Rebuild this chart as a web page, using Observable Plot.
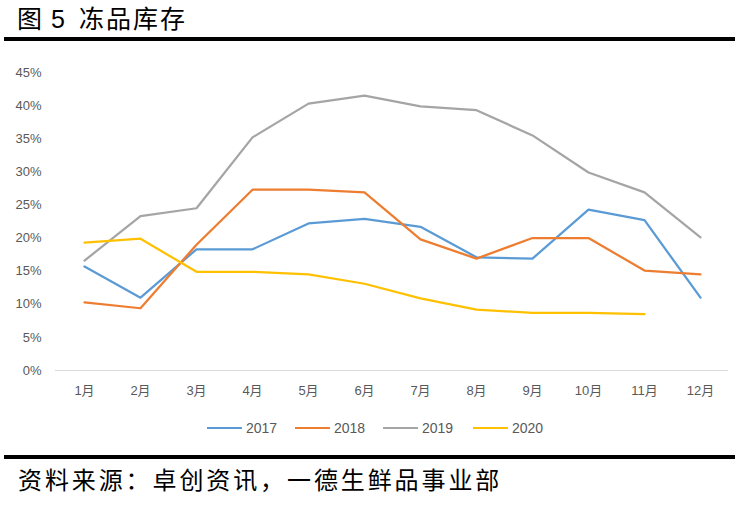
<!DOCTYPE html>
<html>
<head>
<meta charset="utf-8">
<script src="https://cdn.jsdelivr.net/npm/d3@7"></script>
<script src="https://cdn.jsdelivr.net/npm/@observablehq/plot@0.6"></script>
<style>
  html, body { margin: 0; padding: 0; background: #fff; }
  #wrap { position: relative; width: 739px; height: 509px; overflow: hidden; font-family: "Noto Sans CJK SC", "Liberation Sans", sans-serif; }
  #title { position: absolute; left: 17px; top: 0px; font-size: 25px; line-height: 34px; color: #000; white-space: pre; }
  #title .num { font-family: "Liberation Sans", sans-serif; margin: 0 14px 0 9px; }
  #title .name { letter-spacing: 2px; }
  .rule { position: absolute; left: 4px; width: 731px; height: 3.5px; background: #000; }
  #chart { position: absolute; left: 0; top: 50px; }
  #legend { position: absolute; top: 418px; left: 0; width: 739px; height: 20px; font-family: "Liberation Sans", "Noto Sans CJK SC", sans-serif; font-size: 14px; color: #595959; }
  .item { position: absolute; top: 0; display: flex; align-items: center; height: 20px; }
  .swatch { width: 35px; height: 0; border-top: 2.5px solid; margin-right: 4px; }
  #caption { position: absolute; left: 18px; top: 462px; font-size: 24px; line-height: 34px; color: #000; letter-spacing: 2.9px; white-space: pre; }
</style>
</head>
<body>
<div id="wrap">
  <div id="title"><span>图</span><span class="num">5</span><span class="name">冻品库存</span></div>
  <div class="rule" style="top:37px"></div>
  <div id="chart"></div>
  <div id="legend"></div>
  <div class="rule" style="top:455px"></div>
  <div id="caption">资料来源：卓创资讯，一德生鲜品事业部</div>
</div>
<script>
// Frozen goods inventory ratio by month, 2017–2020
const months = ["1月","2月","3月","4月","5月","6月","7月","8月","9月","10月","11月","12月"];
const years = ["2017", "2018", "2019", "2020"];
const v2017 = [0.157, 0.110, 0.183, 0.183, 0.222, 0.229, 0.217, 0.171, 0.169, 0.243, 0.227, 0.110];
const v2018 = [0.103, 0.094, 0.190, 0.273, 0.273, 0.269, 0.198, 0.169, 0.200, 0.200, 0.151, 0.145];
const v2019 = [0.166, 0.233, 0.245, 0.352, 0.403, 0.415, 0.399, 0.393, 0.355, 0.299, 0.269, 0.201];
const v2020 = [0.193, 0.199, 0.149, 0.149, 0.145, 0.131, 0.109, 0.092, 0.087, 0.087, 0.085, null];
const yTicks = [0, 0.05, 0.10, 0.15, 0.20, 0.25, 0.30, 0.35, 0.40, 0.45];
const colors = ["#5B9BD5", "#ED7D31", "#A5A5A5", "#FFC000"];

const seriesValues = [v2017, v2018, v2019, v2020];
const rows = [];
years.forEach((y, i) => {
  seriesValues[i].forEach((v, j) => {
    if (v != null) rows.push({ year: y, month: months[j], value: v });
  });
});

const chart = Plot.plot({
  width: 739,
  height: 360,
  marginTop: 22,
  marginBottom: 40,
  marginLeft: 55,
  marginRight: 11,
  style: { fontFamily: "'Liberation Sans', 'Noto Sans CJK SC', sans-serif", fontSize: "13px", color: "#595959", background: "transparent" },
  x: { type: "point", domain: months, padding: 0.5 },
  y: { domain: [0, 0.45] },
  color: { domain: years, range: colors },
  marks: [
    Plot.ruleY([0], { stroke: "#D9D9D9", strokeWidth: 1 }),
    Plot.axisY({ ticks: yTicks, tickFormat: d3.format(".0%"), tickSize: 0, tickPadding: 14, label: null, fill: "#595959" }),
    Plot.axisX({ tickSize: 0, tickPadding: 15, label: null, fill: "#595959" }),
    Plot.line(rows, { x: "month", y: "value", z: "year", stroke: "year", strokeWidth: 2.25, strokeLinejoin: "round", strokeLinecap: "round" })
  ]
});
document.getElementById("chart").appendChild(chart);

// Legend row beneath the plot
const legend = document.getElementById("legend");
const starts = [207, 295, 383, 473];
years.forEach((y, i) => {
  const item = document.createElement("div");
  item.className = "item";
  item.style.left = starts[i] + "px";
  const sw = document.createElement("span");
  sw.className = "swatch";
  sw.style.borderTopColor = colors[i];
  const label = document.createElement("span");
  label.textContent = y;
  item.appendChild(sw);
  item.appendChild(label);
  legend.appendChild(item);
});
</script>
</body>
</html>
